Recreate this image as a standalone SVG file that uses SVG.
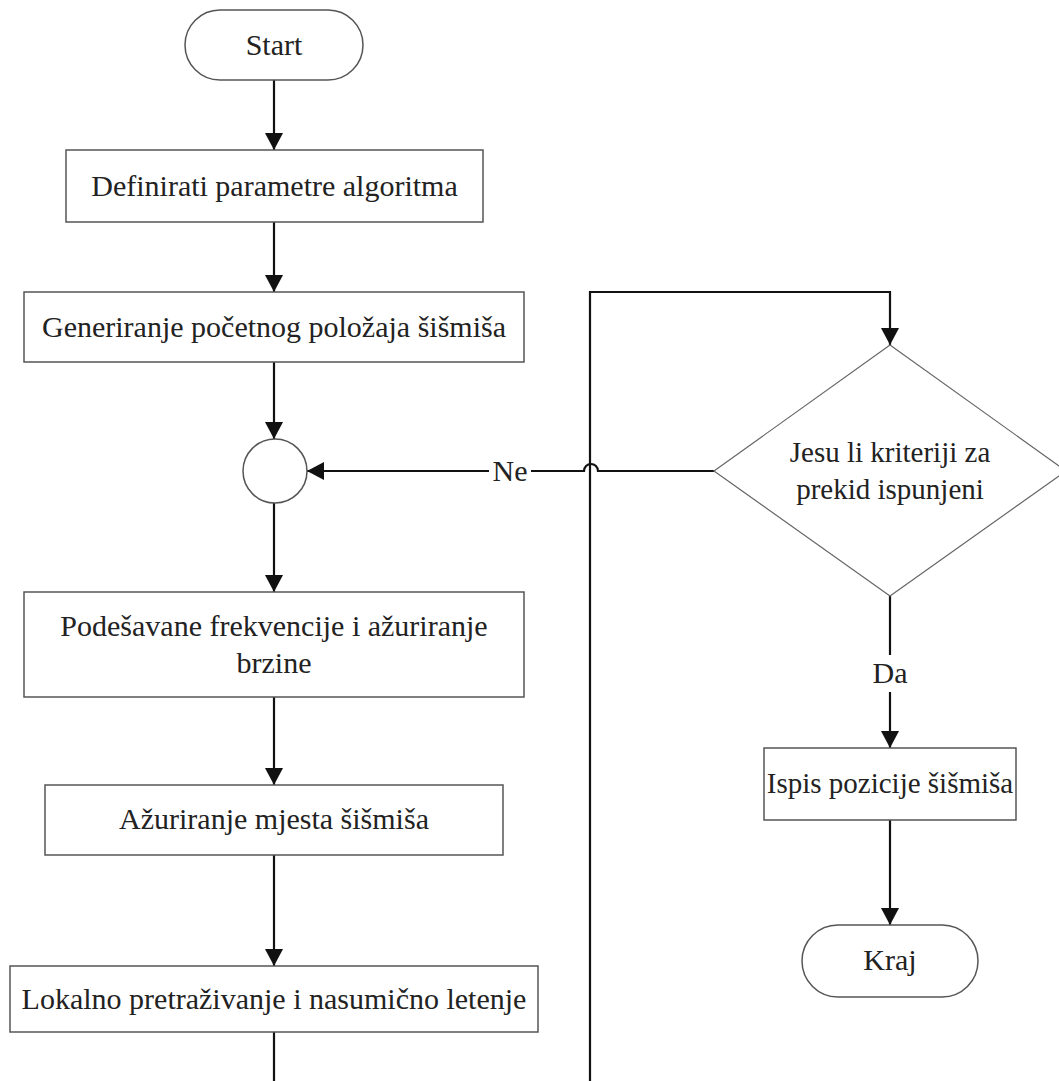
<svg xmlns="http://www.w3.org/2000/svg" width="1059" height="1081" viewBox="0 0 1059 1081">
<defs>
<style>
.box{fill:#fff;stroke:#555;stroke-width:1.5}
.dia{fill:#fff;stroke:#666;stroke-width:1.2}
.con{fill:none;stroke:#111;stroke-width:2.2}
.t{font-family:'Liberation Serif', 'DejaVu Serif', serif;font-size:30px;fill:#222;text-anchor:middle}
.s{font-size:29px}
</style>
<marker id="ah" markerUnits="userSpaceOnUse" markerWidth="18" markerHeight="18" viewBox="0 0 18 18" refX="17" refY="9" orient="auto">
<path d="M0,0 L17,9 L0,18 Z" fill="#111"/>
</marker>
</defs>
<rect width="1059" height="1081" fill="#fff"/>
<g id="connectors">
<path class="con" d="M274 80 V150" marker-end="url(#ah)"/>
<path class="con" d="M274 222 V292" marker-end="url(#ah)"/>
<path class="con" d="M274 362 V439" marker-end="url(#ah)"/>
<path class="con" d="M274 503 V592" marker-end="url(#ah)"/>
<path class="con" d="M274 697 V785" marker-end="url(#ah)"/>
<path class="con" d="M274 855 V966" marker-end="url(#ah)"/>
<path class="con" d="M274 1032 V1100 H590 V292 H890 V345" marker-end="url(#ah)"/>
<path class="con" d="M714 471 H598 A7 7 0 0 0 584 471 H307" marker-end="url(#ah)"/>
<rect x="489" y="455" width="42" height="32" fill="#fff"/>
<text class="t" x="510" y="481">Ne</text>
<path class="con" d="M890 596 V655"/>
<text class="t" x="890" y="683">Da</text>
<path class="con" d="M890 692 V748" marker-end="url(#ah)"/>
<path class="con" d="M890 820 V925" marker-end="url(#ah)"/>
</g>
<g id="start">
<rect class="box" x="185" y="10" width="178" height="70" rx="35" ry="35"/>
<text class="t" x="274" y="55">Start</text>
</g>
<g id="definirati">
<rect class="box" x="66" y="150" width="417" height="72"/>
<text class="t" x="274.5" y="196">Definirati parametre algoritma</text>
</g>
<g id="generiranje">
<rect class="box" x="24" y="292" width="500" height="70"/>
<text class="t" x="274" y="337">Generiranje početnog položaja šišmiša</text>
</g>
<g id="spoj">
<circle class="box" cx="275" cy="471" r="32"/>
</g>
<g id="podesavane">
<rect class="box" x="24" y="592" width="500" height="105"/>
<text class="t" x="274" y="636">Podešavane frekvencije i ažuriranje</text>
<text class="t" x="274" y="673">brzine</text>
</g>
<g id="azuriranje">
<rect class="box" x="45" y="785" width="458" height="70"/>
<text class="t" x="274" y="829">Ažuriranje mjesta šišmiša</text>
</g>
<g id="lokalno">
<rect class="box" x="10" y="966" width="528" height="66"/>
<text class="t" x="274" y="1009">Lokalno pretraživanje i nasumično letenje</text>
</g>
<g id="kriteriji">
<polygon class="dia" points="890,345 1066,471 890,596 714,471"/>
<text class="t s" x="890" y="462">Jesu li kriteriji za</text>
<text class="t s" x="890" y="499">prekid ispunjeni</text>
</g>
<g id="ispis">
<rect class="box" x="764" y="748" width="252" height="72"/>
<text class="t s" x="890" y="793">Ispis pozicije šišmiša</text>
</g>
<g id="kraj">
<rect class="box" x="802" y="925" width="176" height="72" rx="36" ry="36"/>
<text class="t" x="890" y="970">Kraj</text>
</g>
</svg>
